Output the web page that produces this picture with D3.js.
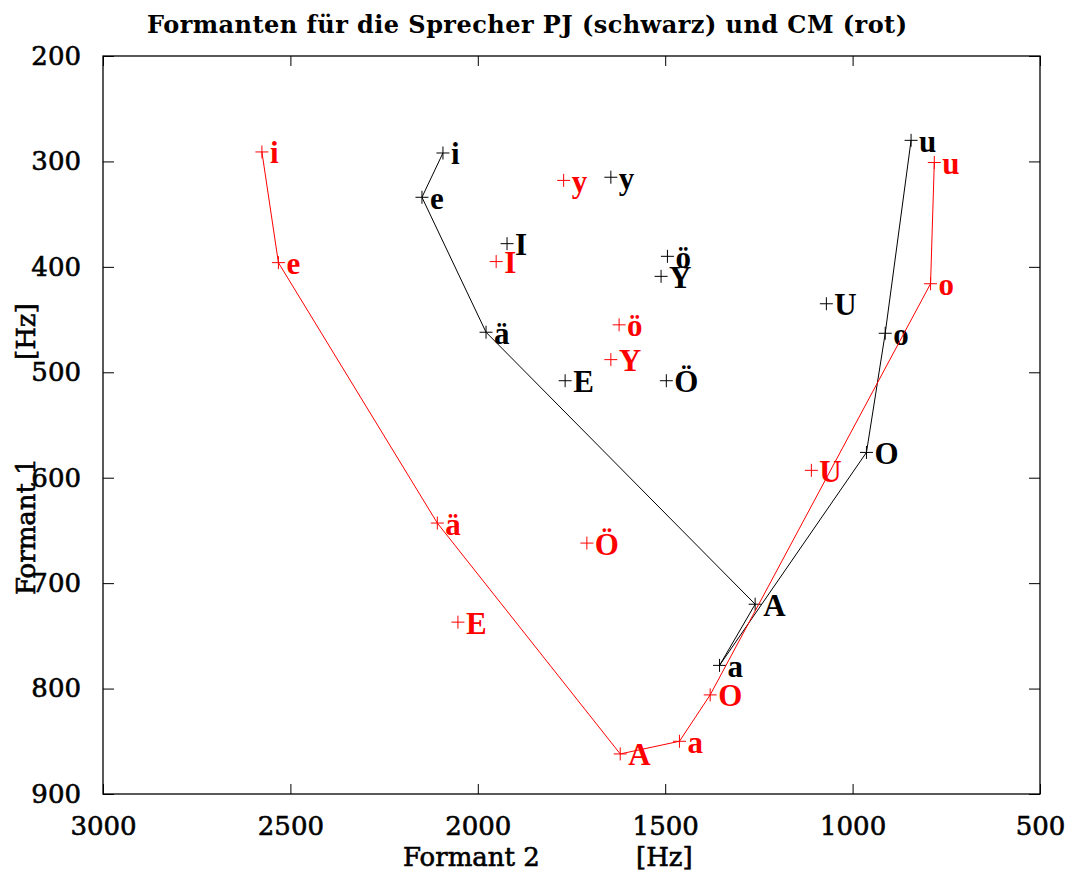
<!DOCTYPE html>
<html>
<head>
<meta charset="utf-8">
<script src="https://cdn.jsdelivr.net/npm/d3@7"></script>
<style>
  body { margin: 0; background: #fff; }
  svg { display: block; }
</style>
</head>
<body>
<div id="chart"></div>
<script>
// vowel labels, same order for both speakers
const vowels = ["i", "e", "ä", "A", "a", "O", "o", "u", "I", "y", "ö", "Y", "E", "Ö", "U"];

// speaker PJ (black)
const pjF2 = [2093, 2149, 1978, 1260, 1355, 963, 913, 844, 1922, 1645, 1494, 1511, 1767, 1497, 1070];
const pjF1 = [292, 334, 462, 720, 778, 576, 463, 280, 378, 315, 390, 409, 508, 508, 435];

// speaker CM (red)
const cmF2 = [2576, 2532, 2108, 1620, 1462, 1380, 792, 782, 1951, 1771, 1623, 1645, 2053, 1709, 1110];
const cmF1 = [291, 396, 643, 862, 850, 806, 416, 301, 395, 318, 455, 488, 737, 662, 593];

// vowels joined by the line (vowel quadrilateral)
const lineOrder = ["i", "e", "ä", "A", "a", "O", "o", "u"];

const xTicks = [3000, 2500, 2000, 1500, 1000, 500];
const yTicks = [200, 300, 400, 500, 600, 700, 800, 900];

const speakers = [
  { f2: pjF2, f1: pjF1, color: "#000000" },
  { f2: cmF2, f1: cmF1, color: "#ff0000" }
];

const width = 1066, height = 871;
const plotLeft = 103, plotRight = 1040, plotTop = 56, plotBottom = 794;

const svg = d3.select("#chart").append("svg")
  .attr("width", width)
  .attr("height", height);

const x = d3.scaleLinear().domain([3000, 500]).range([plotLeft, plotRight]);
const y = d3.scaleLinear().domain([200, 900]).range([plotTop, plotBottom]);

const serif = "'DejaVu Serif', serif";

// axes with inward ticks
svg.append("g")
  .attr("transform", `translate(0,${plotBottom})`)
  .call(d3.axisBottom(x).tickValues(xTicks).tickFormat(d3.format("d"))
    .tickSizeInner(-10).tickSizeOuter(0).tickPadding(23))
  .call(g => g.select(".domain").remove());

svg.append("g")
  .attr("transform", `translate(0,${plotTop})`)
  .call(d3.axisTop(x).tickValues(xTicks).tickSizeInner(-10).tickSizeOuter(0).tickFormat(""))
  .call(g => g.select(".domain").remove());

svg.append("g")
  .attr("transform", `translate(${plotLeft},0)`)
  .call(d3.axisLeft(y).tickValues(yTicks).tickFormat(d3.format("d"))
    .tickSizeInner(-11).tickSizeOuter(0).tickPadding(22))
  .call(g => g.select(".domain").remove());

svg.append("g")
  .attr("transform", `translate(${plotRight},0)`)
  .call(d3.axisRight(y).tickValues(yTicks).tickSizeInner(-11).tickSizeOuter(0).tickFormat(""))
  .call(g => g.select(".domain").remove());

svg.selectAll(".tick line").attr("stroke", "#000").attr("stroke-width", 1);
svg.selectAll(".tick text")
  .style("font-family", serif)
  .style("font-size", "26px")
  .attr("fill", "#000")
  .attr("stroke", "#000")
  .attr("stroke-width", 0.6);

// box
svg.append("rect")
  .attr("x", plotLeft).attr("y", plotTop)
  .attr("width", plotRight - plotLeft).attr("height", plotBottom - plotTop)
  .attr("fill", "none")
  .attr("stroke", "#000")
  .attr("stroke-width", 1.3);

// title
svg.append("text")
  .attr("x", 147).attr("y", 33)
  .attr("textLength", 760)
  .attr("lengthAdjust", "spacing")
  .style("font-family", serif)
  .style("font-weight", "bold")
  .style("font-size", "24px")
  .text("Formanten für die Sprecher PJ (schwarz) und CM (rot)");

// axis labels
const axisLabels = svg.append("g")
  .style("font-family", serif)
  .style("font-size", "26px")
  .attr("stroke", "#000")
  .attr("stroke-width", 0.6);

axisLabels.append("text")
  .attr("x", 403).attr("y", 866)
  .text("Formant 2");
axisLabels.append("text")
  .attr("x", 636).attr("y", 866)
  .text("[Hz]");
axisLabels.append("text")
  .attr("transform", "translate(35,595) rotate(-90)")
  .text("Formant 1");
axisLabels.append("text")
  .attr("transform", "translate(35,360) rotate(-90)")
  .text("[Hz]");

const line = d3.line()
  .x(d => x(d.f2))
  .y(d => y(d.f1));

speakers.forEach(s => {
  const pts = vowels.map((v, i) => ({ v: v, f2: s.f2[i], f1: s.f1[i] }));
  const path = lineOrder.map(v => pts.find(p => p.v === v));

  svg.append("path")
    .datum(path)
    .attr("d", line)
    .attr("fill", "none")
    .attr("stroke", s.color)
    .attr("stroke-width", 1);

  const g = svg.append("g");
  const m = 6.5;
  g.selectAll("path.marker")
    .data(pts)
    .enter().append("path")
    .attr("class", "marker")
    .attr("d", d => `M${x(d.f2) - m},${y(d.f1)}H${x(d.f2) + m}M${x(d.f2)},${y(d.f1) - m}V${y(d.f1) + m}`)
    .attr("stroke", s.color)
    .attr("stroke-width", 1)
    .attr("fill", "none");

  g.selectAll("text")
    .data(pts)
    .enter().append("text")
    .attr("x", d => x(d.f2) + 8)
    .attr("y", d => y(d.f1) + 11.5)
    .style("font-family", "'Liberation Serif', 'Times New Roman', serif")
    .style("font-weight", "bold")
    .style("font-size", "31px")
    .attr("fill", s.color)
    .text(d => d.v);
});
</script>
</body>
</html>
